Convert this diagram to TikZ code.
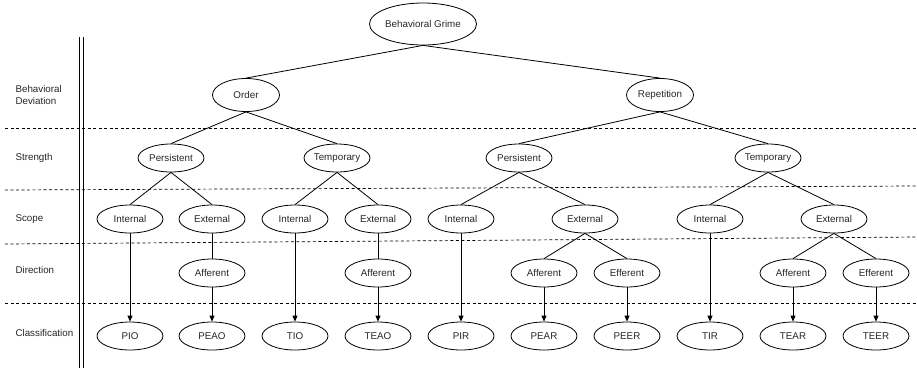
\documentclass[tikz,border=0pt]{standalone}
\usepackage{fontspec}
\setmainfont{Liberation Sans}
\usetikzlibrary{arrows.meta, positioning, shapes.geometric}

\begin{document}
\begin{tikzpicture}[
    x=1pt, y=-1pt,
    oval/.style={draw, ellipse, inner sep=0pt, minimum width=66pt, minimum height=28pt,
                 line width=0.8pt},
    arr/.style={-{Triangle[length=6pt, width=5pt]}, line width=0.8pt},
    ln/.style={line width=0.8pt},
    rowline/.style={dash pattern=on 3pt off 2.5pt, line width=0.7pt},
    lbl/.style={anchor=west, align=left},
    font=\fontsize{9.8}{11.5}\selectfont, text=black!85
]
\useasboundingbox (0,0) rectangle (917,370);

% Row separators
\draw[rowline] (5,128) -- (917,128);
\draw[rowline] (5,190) -- (917,186);
\draw[rowline] (5,244) -- (917,237);
\draw[rowline] (5,303) -- (917,303);

% Double rule
\draw[line width=0.7pt] (79,37) -- (79,368);
\draw[line width=0.7pt] (83,37) -- (83,368);

% Row labels
\node[lbl] (ldev) at (12,95) {Behavioral\\Deviation};
\node[lbl] (lstr) at (12,158) {Strength};
\node[lbl] (lsco) at (12,219) {Scope};
\node[lbl] (ldir) at (12,270) {Direction};
\node[lbl] (lcls) at (12,333) {Classification};

% Root and deviation
\node[oval, minimum width=91pt, minimum height=42pt] (root) at (423,24) {Behavioral Grime};
\node[oval, minimum width=67pt, minimum height=33pt] (ord) at (246,95) {Order};
\node[oval, minimum width=67pt, minimum height=33pt] (rep) at (660,95) {Repetition};
\draw[ln] (root.south) -- (ord.north);
\draw[ln] (root.south) -- (rep.north);

% Strength
\node[oval] (ops) at (171,158) {Persistent};
\node[oval] (otm) at (337,158) {Temporary};
\node[oval] (rps) at (519,158) {Persistent};
\node[oval] (rtm) at (768,158) {Temporary};
\draw[ln] (ord.south) -- (ops.north); \draw[ln] (ord.south) -- (otm.north);
\draw[ln] (rep.south) -- (rps.north); \draw[ln] (rep.south) -- (rtm.north);

% Scope
\node[oval] (opsi) at (130,219) {Internal};
\node[oval] (opse) at (212,219) {External};
\node[oval] (otmi) at (295,219) {Internal};
\node[oval] (otme) at (378,219) {External};
\node[oval] (rpsi) at (461,219) {Internal};
\node[oval] (rpse) at (585,219) {External};
\node[oval] (rtmi) at (710,219) {Internal};
\node[oval] (rtme) at (834,219) {External};
\draw[ln] (ops.south) -- (opsi.north); \draw[ln] (ops.south) -- (opse.north);
\draw[ln] (otm.south) -- (otmi.north); \draw[ln] (otm.south) -- (otme.north);
\draw[ln] (rps.south) -- (rpsi.north); \draw[ln] (rps.south) -- (rpse.north);
\draw[ln] (rtm.south) -- (rtmi.north); \draw[ln] (rtm.south) -- (rtme.north);

% Direction
\node[oval] (opsa) at (212,273) {Afferent};
\node[oval] (otma) at (378,273) {Afferent};
\node[oval] (rpsa) at (544,273) {Afferent};
\node[oval] (rpsf) at (627,273) {Efferent};
\node[oval] (rtma) at (793,273) {Afferent};
\node[oval] (rtmf) at (876,273) {Efferent};
\draw[ln] (opse.south) -- (opsa.north);
\draw[ln] (otme.south) -- (otma.north);
\draw[ln] (rpse.south) -- (rpsa.north); \draw[ln] (rpse.south) -- (rpsf.north);
\draw[ln] (rtme.south) -- (rtma.north); \draw[ln] (rtme.south) -- (rtmf.north);

% Classification
\node[oval] (pio) at (130,336) {PIO};
\node[oval] (peao) at (212,336) {PEAO};
\node[oval] (tio) at (295,336) {TIO};
\node[oval] (teao) at (378,336) {TEAO};
\node[oval] (pir) at (461,336) {PIR};
\node[oval] (pear) at (544,336) {PEAR};
\node[oval] (peer) at (627,336) {PEER};
\node[oval] (tir) at (710,336) {TIR};
\node[oval] (tear) at (793,336) {TEAR};
\node[oval] (teer) at (876,336) {TEER};
\draw[arr] (opsi) -- (pio);
\draw[arr] (opsa) -- (peao);
\draw[arr] (otmi) -- (tio);
\draw[arr] (otma) -- (teao);
\draw[arr] (rpsi) -- (pir);
\draw[arr] (rpsa) -- (pear);
\draw[arr] (rpsf) -- (peer);
\draw[arr] (rtmi) -- (tir);
\draw[arr] (rtma) -- (tear);
\draw[arr] (rtmf) -- (teer);

\end{tikzpicture}
\end{document}
